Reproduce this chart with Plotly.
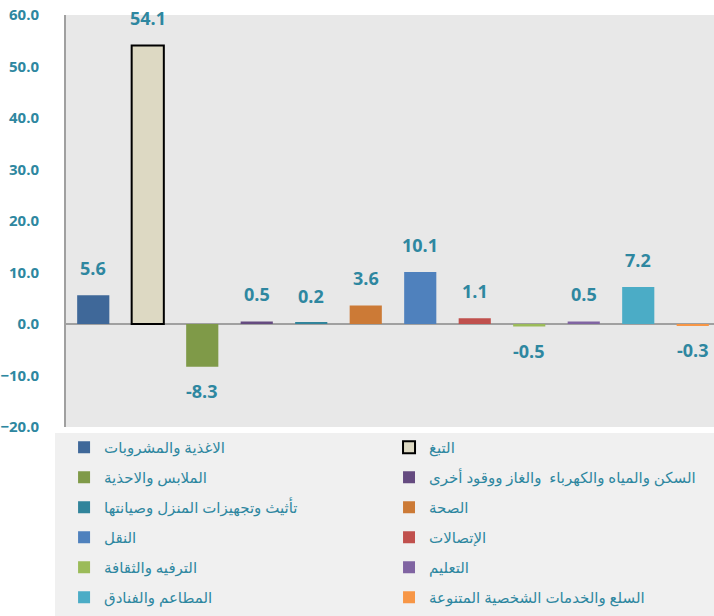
import plotly.graph_objects as go

categories = [
    "الاغذية والمشروبات",
    "التبغ",
    "الملابس والاحذية",
    "السكن والمياه والكهرباء  والغاز ووقود أخرى",
    "تأثيث وتجهيزات المنزل وصيانتها",
    "الصحة",
    "النقل",
    "الإتصالات",
    "الترفيه والثقافة",
    "التعليم",
    "المطاعم والفنادق",
    "السلع والخدمات الشخصية المتنوعة",
]
values = [5.6, 54.1, -8.3, 0.5, 0.2, 3.6, 10.1, 1.1, -0.5, 0.5, 7.2, -0.3]
colors = ["#3F6899", "#DDD9C3", "#7F9A48", "#654B80", "#31849B", "#CC7A36",
          "#4F81BD", "#C0504D", "#9BBB59", "#8064A2", "#4BACC6", "#F79646"]
y_ticks = [60, 50, 40, 30, 20, 10, 0, -10, -20]

TEAL = "#2E87A0"
FONT = "Open Sans, DejaVu Sans, sans-serif"

fig = go.Figure()
for i, (cat, val, col) in enumerate(zip(categories, values, colors)):
    is_tobacco = (i == 1)
    fig.add_trace(go.Bar(
        x=[cat], y=[val], name=cat,
        marker=dict(color=col,
                    line=dict(color="#000000" if is_tobacco else col,
                              width=2 if is_tobacco else 0)),
        width=0.59,
        legend="legend" if i % 2 == 0 else "legend2",
        legendgroup=cat,
    ))
    fig.add_annotation(
        x=cat, y=val, text=f"{val:.1f}", showarrow=False,
        yanchor="middle", yshift=27 if val >= 0 else -24,
        font=dict(family=FONT, size=18, color=TEAL, weight="bold"),
    )

# legend background band
fig.add_shape(type="rect", xref="paper", yref="paper",
              x0=-0.017, x1=1.0, y0=-0.4587, y1=-0.0146,
              fillcolor="#F0F0F0", line=dict(width=0), layer="below")

legend_common = dict(
    orientation="v", bgcolor="rgba(0,0,0,0)",
    font=dict(family=FONT, size=15, color=TEAL),
    tracegroupgap=7.5, yanchor="top", xanchor="left", y=-0.0097,
    traceorder="grouped",
)
fig.update_layout(
    width=714, height=616,
    margin=dict(l=66, r=0, t=15, b=189, autoexpand=False),
    plot_bgcolor="#E8E8E8", paper_bgcolor="#FFFFFF",
    barmode="overlay",
    showlegend=True,
    legend=dict(x=-0.003, **legend_common),
    legend2=dict(x=0.4985, **legend_common),
    font=dict(family=FONT),
)
fig.update_xaxes(
    type="category", categoryorder="array", categoryarray=categories,
    range=[-0.5, 11.39], showticklabels=False, showgrid=False,
    zeroline=False, showline=False, ticks="",
)
fig.update_yaxes(
    range=[-20, 60], tickvals=y_ticks, tickformat=".1f",
    showgrid=False, zeroline=True, zerolinecolor="#A0A0A0", zerolinewidth=2,
    showline=True, linecolor="#A0A0A0", linewidth=2,
    ticklabelstandoff=22,
    tickfont=dict(family=FONT, size=15, color=TEAL, weight="bold"),
)

fig.write_html(
    "out.html",
    config={"displayModeBar": False},
    post_script="document.body.style.margin='0';document.body.style.overflow='hidden';",
)
